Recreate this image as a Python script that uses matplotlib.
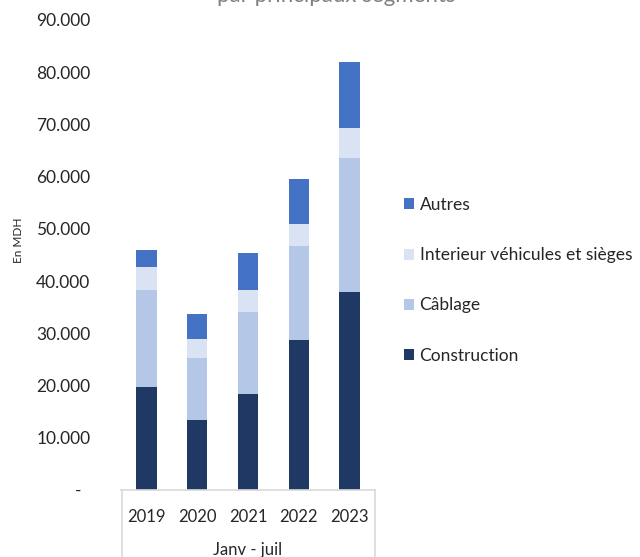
import matplotlib
matplotlib.use("Agg")
import matplotlib.pyplot as plt
from matplotlib.lines import Line2D
from matplotlib.patches import Patch
import numpy as np

plt.rcParams['font.family'] = ['Lato', 'DejaVu Sans']

years = ['2019', '2020', '2021', '2022', '2023']
construction = [19700, 13350, 18450, 28800, 37930]
cablage = [18600, 11950, 15600, 17940, 25730]
interieur = [4400, 3700, 4330, 4150, 5690]
autres = [3200, 4650, 7090, 8750, 12580]
series_names = ['Construction', 'Câblage', 'Interieur véhicules et sièges', 'Autres']
colors = ['#203864', '#B4C7E7', '#DAE3F3', '#4472C4']
ytick_values = [0, 10000, 20000, 30000, 40000, 50000, 60000, 70000, 80000, 90000]
ytick_labels = ['-  ', '10.000', '20.000', '30.000', '40.000', '50.000',
                '60.000', '70.000', '80.000', '90.000']
title = 'par principaux segments'
group_label = 'Janv - juil'
ylabel = 'En MDH'

W, H = 640, 557
fig = plt.figure(figsize=(W / 100, H / 100), dpi=100)
ax = fig.add_axes([121 / W, 1 - 490 / H, (375 - 121) / W, (490 - 20) / H])

x = np.arange(len(years))
bottom = np.zeros(len(years))
handles = []
for vals, name, c in zip([construction, cablage, interieur, autres], series_names, colors):
    ax.bar(x, vals, width=0.4, bottom=bottom, color=c, edgecolor='none')
    bottom += np.array(vals)
    handles.append(Patch(facecolor=c, edgecolor='none', label=name))

ax.set_xlim(-0.5, len(years) - 0.5)
ax.set_ylim(0, 90000)
ax.set_yticks(ytick_values)
ax.set_yticklabels(ytick_labels)
ax.set_xticks(x)
ax.set_xticklabels(years)
ax.tick_params(axis='both', length=0, colors='#262626')
ax.tick_params(axis='y', pad=22, labelsize=12.5)
ax.tick_params(axis='x', pad=14, labelsize=12)
for s in ['top', 'right', 'left']:
    ax.spines[s].set_visible(False)
ax.spines['bottom'].set_color('#d9d9d9')
ax.spines['bottom'].set_linewidth(1.2)

# category box lines
for px in [121.5, 375]:
    fig.add_artist(Line2D([px / W, px / W], [1 - 490 / H, 0], transform=fig.transFigure,
                          color='#d9d9d9', lw=1.2))

fig.text(248 / W, 1 - 550 / H, group_label, ha='center', va='center', fontsize=12, color='#262626')
fig.text(18 / W, 1 - 240 / H, ylabel, rotation=90, ha='center', va='center', fontsize=8.5, color='#262626')
fig.text(336 / W, 1 - 2 / H, title, ha='center', va='baseline', fontsize=16, color='#808080')

leg = fig.legend(handles=handles[::-1], loc='upper left', bbox_to_anchor=(404 / W, 1 - 197 / H),
                 frameon=False, fontsize=12.5, handlelength=0.6, handleheight=0.6,
                 handletextpad=0.3, labelspacing=1.97, borderpad=0, borderaxespad=0)
for t in leg.get_texts():
    t.set_color('#262626')

fig.savefig('out.png', dpi=100)
